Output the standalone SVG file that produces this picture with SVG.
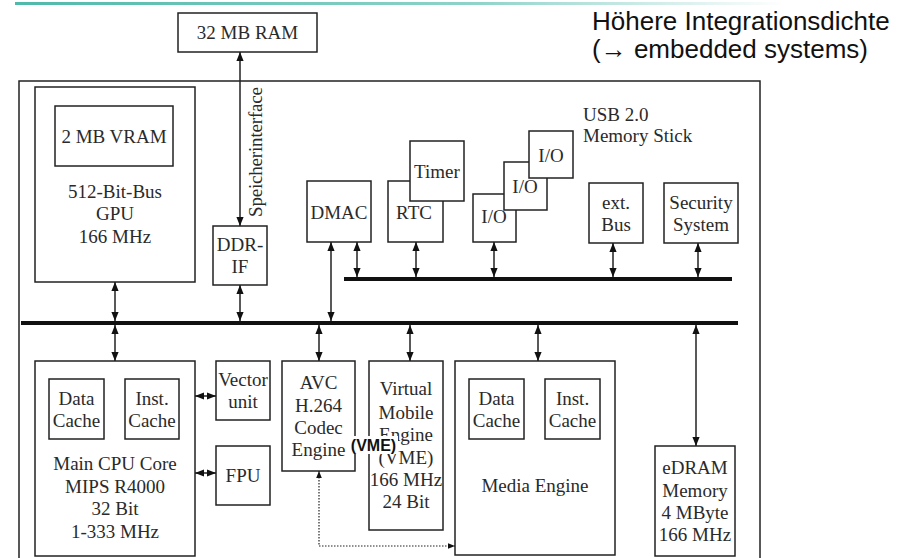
<svg xmlns="http://www.w3.org/2000/svg" width="913" height="558" viewBox="0 0 913 558">
<style>
.b{fill:#fff;stroke:#222;stroke-width:1.5}
.t{font-family:"Liberation Serif",serif;font-size:19px;fill:#2a2a2a;text-anchor:middle}
.tl{font-family:"Liberation Serif",serif;font-size:19px;fill:#2a2a2a}
.c{fill:none;stroke:#222;stroke-width:1.5}
.bus{fill:none;stroke:#111;stroke-width:4}
.ttl{font-family:"Liberation Sans",Arial,sans-serif;font-size:26px;fill:#111}
</style>
<defs>
<linearGradient id="g" x1="0" x2="1" y1="0" y2="0">
<stop offset="0" stop-color="#4fb9aa"/><stop offset="0.6" stop-color="#8fd3c9"/><stop offset="1" stop-color="#fff"/>
</linearGradient>
<marker id="ah" viewBox="0 0 10 8" refX="10" refY="4" markerWidth="9" markerHeight="8" markerUnits="userSpaceOnUse" orient="auto-start-reverse"><path d="M0,0 L10,4 L0,8 z" fill="#111"/></marker>
<marker id="as" viewBox="0 0 10 8" refX="10" refY="4" markerWidth="7" markerHeight="6" markerUnits="userSpaceOnUse" orient="auto-start-reverse"><path d="M0,0 L10,4 L0,8 z" fill="#111"/></marker>
</defs>
<rect x="15" y="2" width="770" height="3" fill="url(#g)"/>
<text class="ttl" x="592" y="30">Höhere Integrationsdichte</text>
<text class="ttl" x="592" y="58">(→ embedded systems)</text>
<rect class="b" x="19" y="81" width="741" height="500"/>
<g id="ram"><rect class="b" x="178" y="13" width="139" height="39"/><text class="t" x="247.5" y="39">32 MB RAM</text></g>
<g id="gpu"><rect class="b" x="35" y="87" width="160" height="195"/><text class="t" x="115" y="198">512-Bit-Bus</text><text class="t" x="115" y="220">GPU</text><text class="t" x="115" y="243">166 MHz</text></g>
<g id="vram"><rect class="b" x="55" y="106" width="118" height="60"/><text class="t" x="114" y="143">2 MB VRAM</text></g>
<g id="ddr"><rect class="b" x="213" y="226" width="54" height="59"/><text class="t" x="240" y="251">DDR-</text><text class="t" x="240" y="273">IF</text></g>
<text class="tl" transform="translate(262,217) rotate(-90)" textLength="130">Speicherinterface</text>
<g id="dmac"><rect class="b" x="307" y="181" width="64" height="61"/><text class="t" x="339" y="219">DMAC</text></g>
<g id="rtc"><rect class="b" x="388" y="181" width="55" height="61"/><text class="t" x="414" y="219">RTC</text></g>
<g id="timer"><rect class="b" x="410" y="141" width="54" height="60"/><text class="t" x="437" y="178">Timer</text></g>
<g id="io1"><rect class="b" x="473" y="194" width="43" height="48"/><text class="t" x="494" y="223">I/O</text></g>
<g id="io2"><rect class="b" x="504" y="162" width="43" height="48"/><text class="t" x="525" y="193">I/O</text></g>
<g id="io3"><rect class="b" x="529" y="131" width="44" height="47"/><text class="t" x="551" y="162">I/O</text></g>
<g id="usb"><text class="tl" x="583" y="121">USB 2.0</text><text class="tl" x="583" y="142">Memory Stick</text></g>
<g id="extbus"><rect class="b" x="589" y="183" width="54" height="60"/><text class="t" x="616" y="209">ext.</text><text class="t" x="616" y="231">Bus</text></g>
<g id="sec"><rect class="b" x="664" y="183" width="74" height="60"/><text class="t" x="701" y="209">Security</text><text class="t" x="701" y="231">System</text></g>
<g id="cpu"><rect class="b" x="35" y="361" width="160" height="195"/><text class="t" x="115" y="470">Main CPU Core</text><text class="t" x="115" y="493">MIPS R4000</text><text class="t" x="115" y="515">32 Bit</text><text class="t" x="115" y="538">1-333 MHz</text></g>
<g id="dc1"><rect class="b" x="49" y="379" width="55" height="60"/><text class="t" x="76.5" y="405">Data</text><text class="t" x="76.5" y="427">Cache</text></g>
<g id="ic1"><rect class="b" x="125" y="379" width="54" height="60"/><text class="t" x="152" y="405">Inst.</text><text class="t" x="152" y="427">Cache</text></g>
<g id="vec"><rect class="b" x="216" y="361" width="54" height="59"/><text class="t" x="243" y="386">Vector</text><text class="t" x="243" y="408">unit</text></g>
<g id="fpu"><rect class="b" x="216" y="446" width="54" height="59"/><text class="t" x="243" y="482">FPU</text></g>
<g id="avc"><rect class="b" x="282" y="361" width="73" height="110"/><text class="t" x="318.5" y="389">AVC</text><text class="t" x="318.5" y="412">H.264</text><text class="t" x="318.5" y="434">Codec</text><text class="t" x="318.5" y="456">Engine</text></g>
<g id="vme"><rect class="b" x="369" y="361" width="74" height="169"/><text class="t" x="406" y="395">Virtual</text><text class="t" x="406" y="419">Mobile</text><text class="t" x="406" y="441">Engine</text><text class="t" x="406" y="464">(VME)</text><text class="t" x="406" y="486">166 MHz</text><text class="t" x="406" y="508">24 Bit</text></g>
<g id="media"><rect class="b" x="455" y="361" width="160" height="194"/><text class="t" x="535" y="492">Media Engine</text></g>
<g id="dc2"><rect class="b" x="469" y="379" width="55" height="60"/><text class="t" x="496.5" y="405">Data</text><text class="t" x="496.5" y="427">Cache</text></g>
<g id="ic2"><rect class="b" x="545" y="379" width="55" height="60"/><text class="t" x="572.5" y="405">Inst.</text><text class="t" x="572.5" y="427">Cache</text></g>
<g id="edram"><rect class="b" x="655" y="446" width="80" height="110"/><text class="t" x="695" y="474">eDRAM</text><text class="t" x="695" y="497">Memory</text><text class="t" x="695" y="519">4 MByte</text><text class="t" x="695" y="541">166 MHz</text></g>
<g id="connectors">
<line class="bus" x1="21" y1="323" x2="738" y2="323"/>
<line class="bus" x1="344" y1="279" x2="732" y2="279"/>
<line class="c" x1="240" y1="226" x2="240" y2="52" marker-start="url(#ah)" marker-end="url(#ah)"/>
<line class="c" x1="115" y1="282" x2="115" y2="321" marker-start="url(#ah)" marker-end="url(#ah)"/>
<line class="c" x1="240" y1="285" x2="240" y2="321" marker-start="url(#ah)" marker-end="url(#ah)"/>
<line class="c" x1="331" y1="242" x2="331" y2="321" marker-start="url(#ah)" marker-end="url(#ah)"/>
<line class="c" x1="357" y1="242" x2="357" y2="277" marker-start="url(#ah)" marker-end="url(#ah)"/>
<line class="c" x1="416" y1="242" x2="416" y2="277" marker-start="url(#ah)" marker-end="url(#ah)"/>
<line class="c" x1="494" y1="242" x2="494" y2="277" marker-start="url(#ah)" marker-end="url(#ah)"/>
<line class="c" x1="613" y1="243" x2="613" y2="277" marker-start="url(#ah)" marker-end="url(#ah)"/>
<line class="c" x1="698" y1="243" x2="698" y2="277" marker-start="url(#ah)" marker-end="url(#ah)"/>
<line class="c" x1="115" y1="325" x2="115" y2="361" marker-start="url(#ah)" marker-end="url(#ah)"/>
<line class="c" x1="319" y1="325" x2="319" y2="361" marker-start="url(#ah)" marker-end="url(#ah)"/>
<line class="c" x1="410" y1="325" x2="410" y2="361" marker-start="url(#ah)" marker-end="url(#ah)"/>
<line class="c" x1="538" y1="325" x2="538" y2="361" marker-start="url(#ah)" marker-end="url(#ah)"/>
<line class="c" x1="696" y1="325" x2="696" y2="446" marker-start="url(#ah)" marker-end="url(#ah)"/>
<line class="c" x1="195" y1="396" x2="216" y2="396" marker-start="url(#ah)" marker-end="url(#ah)"/>
<line class="c" x1="195" y1="473" x2="216" y2="473" marker-start="url(#ah)" marker-end="url(#ah)"/>
<path d="M319,471 L319,546 L455,546" fill="none" stroke="#222" stroke-width="1.2" stroke-dasharray="1.5 1.5" marker-start="url(#as)" marker-end="url(#as)"/>
</g>
<g id="vmelabel"><rect x="349" y="436" width="49" height="18" fill="#fff"/><text x="373.5" y="451" font-family="'Liberation Sans',Arial,sans-serif" font-size="16" font-weight="bold" fill="#111" text-anchor="middle">(VME)</text></g>
</svg>
